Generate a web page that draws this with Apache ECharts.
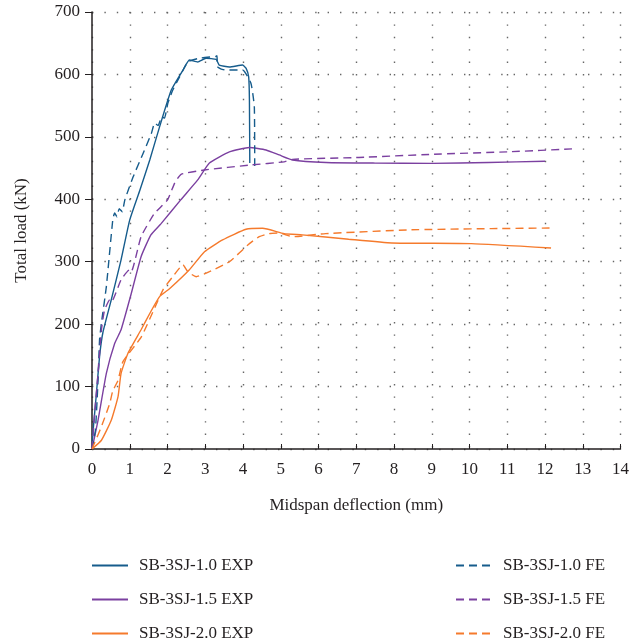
<!DOCTYPE html>
<html>
<head>
<meta charset="utf-8">
<script src="https://cdn.jsdelivr.net/npm/echarts@6/dist/echarts.min.js"></script>
<style>
  html, body { margin: 0; padding: 0; background: #fff; }
  #chart { width: 632px; height: 642px; }
</style>
</head>
<body>
<div id="chart"></div>
<script>
// [deflection (mm), load (kN)]
const exp10 = [[0, 0], [0.03, 30], [0.11, 84], [0.2, 148], [0.29, 187], [0.51, 239], [0.77, 303],
  [1.0, 367], [1.27, 415], [1.53, 463], [1.79, 516], [2.1, 575], [2.41, 607],
  [2.58, 623], [2.8, 620], [3.02, 626], [3.29, 624], [3.37, 615], [3.64, 612], [3.99, 615],
  [4.08, 610], [4.15, 596], [4.17, 560], [4.18, 458]];
const fe10 = [[0, 0], [0.09, 30], [0.16, 110], [0.2, 175], [0.25, 202], [0.38, 260], [0.55, 367],
  [0.6, 378], [0.66, 372], [0.72, 385], [0.8, 380], [0.87, 399], [1.09, 436], [1.35, 473],
  [1.57, 505], [1.66, 522], [1.75, 518], [1.85, 532], [1.92, 530], [2.01, 554], [2.14, 575],
  [2.32, 596], [2.54, 620], [2.85, 626], [3.29, 629], [3.31, 630], [3.33, 612], [3.45, 608],
  [3.64, 607], [3.99, 607], [4.21, 586], [4.3, 548], [4.31, 452]];
const exp15 = [[0, 0], [0.16, 46], [0.38, 121], [0.6, 169], [0.77, 191], [1.04, 249], [1.3, 308],
  [1.56, 343], [1.83, 361], [2.35, 399], [2.8, 431], [3.11, 458], [3.64, 476], [4.17, 483],
  [4.61, 479], [4.96, 471], [5.31, 463], [6.2, 459], [7.5, 458], [9.0, 457.5], [10.5, 459],
  [12.0, 461]];
const fe15 = [[0, 0], [0.07, 57], [0.16, 121], [0.25, 191], [0.33, 222], [0.47, 239], [0.52, 236],
  [0.77, 271], [0.99, 287], [1.04, 284], [1.3, 340], [1.65, 377], [2.0, 399], [2.19, 426],
  [2.36, 440], [2.98, 447], [4.21, 455], [5.09, 460], [5.31, 464], [7.07, 467], [9.0, 472],
  [11.02, 476], [12.78, 481]];
const exp20 = [[0, 0], [0.25, 14], [0.51, 46], [0.69, 84], [0.77, 121], [0.95, 153], [1.3, 191],
  [1.53, 217], [1.79, 244], [2.06, 257], [2.58, 287], [2.98, 316], [3.46, 335], [4.08, 352],
  [4.52, 353.5], [5.09, 345], [5.57, 343], [6.8, 336], [7.94, 330], [10.05, 329], [12.16, 322]];
const fe20 = [[0, 0], [0.07, 10], [0.25, 36], [0.47, 73], [0.55, 93], [0.69, 110], [0.82, 140],
  [1.31, 180], [1.88, 255], [2.14, 276], [2.41, 295], [2.54, 284], [2.76, 276], [3.11, 284],
  [3.64, 300], [4.17, 329], [4.43, 340], [4.69, 345], [4.96, 346], [5.31, 340], [6.19, 345],
  [8.38, 351], [10.58, 353], [12.25, 354]];

const names = ['SB-3SJ-1.0 EXP', 'SB-3SJ-1.5 EXP', 'SB-3SJ-2.0 EXP',
  'SB-3SJ-1.0 FE', 'SB-3SJ-1.5 FE', 'SB-3SJ-2.0 FE'];
const colors = ['#165c8c', '#7b40a0', '#f57a2c'];
const serif = 'Liberation Serif';

function line (name, data, color, dashed)
{
  return {
    name: name,
    type: 'line',
    data: data,
    symbol: 'none',
    smooth: 0.15,
    lineStyle: { color: color, width: 1.4, type: dashed ? [8, 5] : 'solid' },
    itemStyle: { color: color }
  };
}

let chart = echarts.init(document.getElementById('chart'));
let legendBase = {
  orient: 'vertical',
  top: 552,
  height: 100,
  itemWidth: 36,
  itemHeight: 10,
  itemGap: 17,
  itemStyle: { opacity: 0 },
  textStyle: { fontFamily: serif, fontSize: 17, color: '#231f20', padding: [0, 0, 0, 6] }
};
chart.setOption({
  animation: false,
  textStyle: { fontFamily: serif },
  grid: { left: 92, right: 9, top: 12, bottom: 193 },
  legend: [
    Object.assign({ left: 86, data: names.slice(0, 3) }, legendBase),
    Object.assign({ left: 450, data: names.slice(3) }, legendBase)
  ],
  xAxis: {
    type: 'value', min: 0, max: 14, interval: 1,
    name: 'Midspan deflection (mm)', nameLocation: 'middle', nameGap: 48,
    nameTextStyle: { fontFamily: serif, fontSize: 17, color: '#231f20' },
    axisLine: { lineStyle: { color: '#231f20', width: 1.5 } },
    axisTick: { inside: true, length: 5, lineStyle: { color: '#231f20' } },
    axisLabel: { fontFamily: serif, fontSize: 17, color: '#231f20', margin: 12 },
    splitLine: { show: true, lineStyle: { color: '#666', width: 1.4, type: [1.4, 11] } }
  },
  yAxis: {
    type: 'value', min: 0, max: 700, interval: 100,
    name: 'Total load (kN)', nameLocation: 'middle', nameGap: 62,
    nameTextStyle: { fontFamily: serif, fontSize: 17, color: '#231f20' },
    axisLine: { show: true, lineStyle: { color: '#231f20', width: 1.5 } },
    axisTick: { show: true, length: 7, lineStyle: { color: '#231f20' } },
    axisLabel: { fontFamily: serif, fontSize: 17, color: '#231f20', margin: 12 },
    splitLine: { show: true, lineStyle: { color: '#666', width: 1.4, type: [1.4, 11] } }
  },
  series: [
    line(names[0], exp10, colors[0], false),
    line(names[1], exp15, colors[1], false),
    line(names[2], exp20, colors[2], false),
    line(names[3], fe10, colors[0], true),
    line(names[4], fe15, colors[1], true),
    line(names[5], fe20, colors[2], true)
  ]
});
</script>
</body>
</html>
